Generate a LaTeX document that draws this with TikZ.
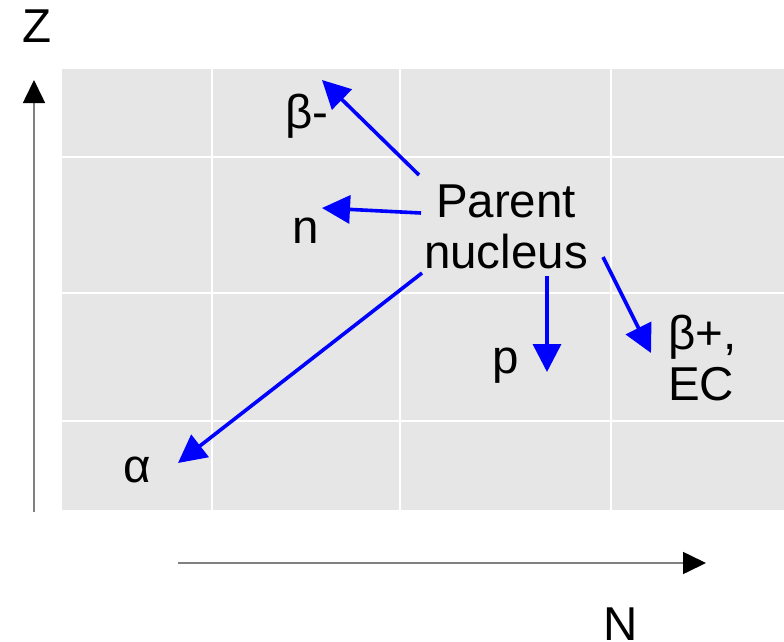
\documentclass[tikz,border=0pt]{standalone}
\usepackage{fontspec}
\setmainfont{Liberation Sans}
\usetikzlibrary{arrows.meta}
\definecolor{panelgray}{HTML}{E6E6E6}
\definecolor{axisgray}{HTML}{808080}
\tikzset{
  lbl/.style={inner sep=0pt, font=\fontsize{47.5}{51}\selectfont, text=black},
  gridline/.style={draw=white, line width=2pt},
  axisline/.style={draw=axisgray, line width=1.6pt,
    -{Triangle[length=23pt,width=22pt,color=black]}},
  decay/.style={draw=blue, line width=3.6pt,
    -{Triangle[length=28pt,width=28pt,color=blue]}}
}
\begin{document}
\begin{tikzpicture}[x=1pt,y=-1pt]
\useasboundingbox (0,0) rectangle (784,642);

% chart panel with its grid
\fill[panelgray] (62,69) rectangle (784,510);
\foreach \gx in {212,400,611} \draw[gridline] (\gx,69) -- (\gx,510);
\foreach \gy in {157,293,421} \draw[gridline] (62,\gy) -- (784,\gy);

% axes
\coordinate (zfoot) at (34,512);
\coordinate (ztip) at (34,80);
\coordinate (nfoot) at (178,563);
\coordinate (ntip) at (706,563);
\draw[axisline] (zfoot) -- (ztip);
\draw[axisline] (nfoot) -- (ntip);
\node[lbl, anchor=base] (zlabel) at (37,43) {Z};
\node[lbl, anchor=base] (nlabel) at (621,640) {N};

% labels (multi-line nodes are placed by their last baseline)
\node[lbl, anchor=base, align=center] (parent) at (506,268) {Parent\\nucleus};
\node[lbl, anchor=base] (bminus) at (307,128) {β-};
\node[lbl, anchor=base] (neutron) at (306,243) {n};
\node[lbl, anchor=base] (alpha) at (137,482) {α};
\node[lbl, anchor=base] (proton) at (506,373) {p};
\node[lbl, anchor=base west, align=left] (bplus) at (668,400) {β+,\\EC};

% decay arrows
\coordinate (s-bm) at (419,175);
\coordinate (e-bm) at (322,80);
\coordinate (s-n) at (421,213);
\coordinate (e-n) at (322,208);
\coordinate (s-a) at (422,273);
\coordinate (e-a) at (178,463);
\coordinate (s-p) at (547,276);
\coordinate (e-p) at (547,372);
\coordinate (s-bp) at (603,257);
\coordinate (e-bp) at (651,353);
\draw[decay] (s-bm) -- (e-bm);
\draw[decay] (s-n) -- (e-n);
\draw[decay] (s-a) -- (e-a);
\draw[decay] (s-p) -- (e-p);
\draw[decay] (s-bp) -- (e-bp);
\end{tikzpicture}
\end{document}
